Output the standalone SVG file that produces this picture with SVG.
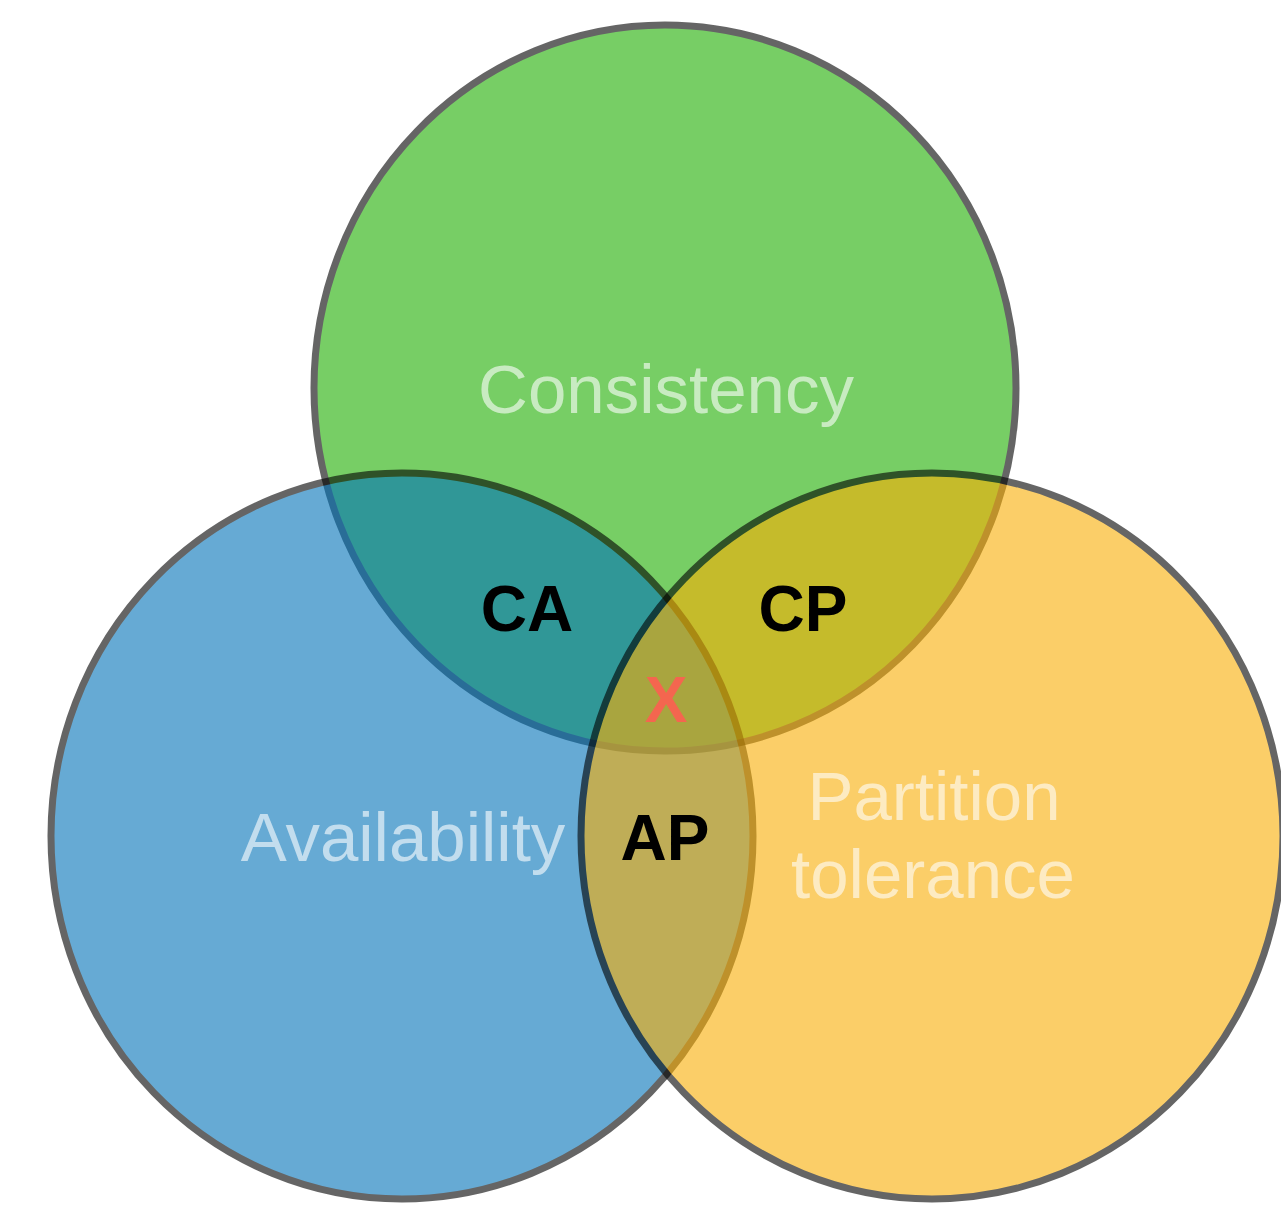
<svg xmlns="http://www.w3.org/2000/svg" width="1281" height="1205" viewBox="0 0 1281 1205">
<style>
.set{opacity:0.6}
.set ellipse{stroke:#000;stroke-width:7}
.title{font-family:"Liberation Sans",Arial,Helvetica,sans-serif;font-size:69px;fill:#fff;fill-opacity:0.6;text-anchor:middle}
.lbl{font-family:"Liberation Sans",Arial,Helvetica,sans-serif;font-size:64px;font-weight:bold;fill:#000;text-anchor:middle}
</style>
<rect width="1281" height="1205" fill="#fff"/>
<g id="consistency">
<g class="set"><ellipse cx="665" cy="388" rx="351" ry="363" fill="#1eaf00"/></g>
</g>
<g id="availability">
<g class="set"><ellipse cx="402" cy="836" rx="351" ry="363" fill="#0273b9"/></g>
</g>
<g id="partition">
<g class="set"><ellipse cx="932" cy="836" rx="351" ry="363" fill="#faaf05"/></g>
</g>
<g id="consistency-label"><text class="title" x="666" y="413">Consistency</text></g>
<g id="availability-label"><text class="title" x="403" y="861">Availability</text></g>
<g id="partition-label"><text class="title" x="934" y="820">Partition</text><text class="title" x="933" y="898">tolerance</text></g>
<g id="ca"><text class="lbl" x="527" y="631">CA</text></g>
<g id="cp"><text class="lbl" x="803" y="631">CP</text></g>
<g id="ap"><text class="lbl" x="665" y="860">AP</text></g>
<g id="x"><text class="lbl" x="666" y="722" fill="#f4664f" style="fill:#f4664f">X</text></g>
</svg>
